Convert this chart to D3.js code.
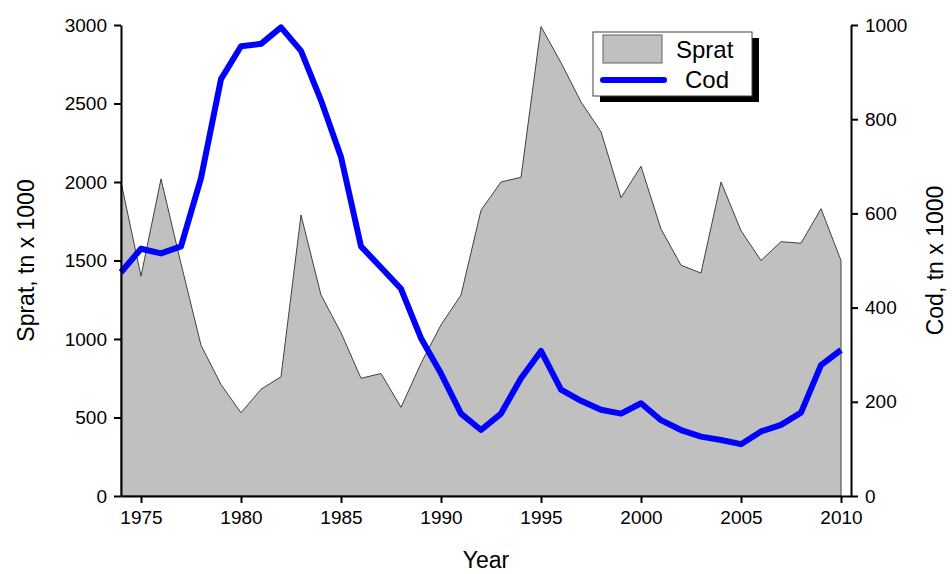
<!DOCTYPE html>
<html>
<head>
<meta charset="utf-8">
<script src="https://cdn.jsdelivr.net/npm/d3@7"></script>
<style>
  body { margin: 0; background: #fff; }
  text { font-family: "Liberation Sans", Arial, sans-serif; fill: #000; }
</style>
</head>
<body>
<div id="chart"></div>
<script>
const years = d3.range(1974, 2011)

const sprat = [2000, 1400, 2020, 1480, 960, 710, 530, 680, 760, 1790,
  1280, 1040, 750, 780, 565, 845, 1090, 1280, 1820, 2000,
  2030, 2990, 2760, 2510, 2320, 1900, 2100, 1700, 1470, 1420,
  2000, 1690, 1500, 1620, 1610, 1830, 1500]

const cod = [475, 525, 515, 530, 675, 885, 955, 960, 995, 945,
  840, 720, 530, 485, 440, 335, 260, 175, 140, 175,
  250, 308, 226, 202, 183, 175, 197, 161, 140, 126,
  119, 110, 137, 151, 177, 278, 310]

const xTicks = [1975, 1980, 1985, 1990, 1995, 2000, 2005, 2010]
const spratTicks = [0, 500, 1000, 1500, 2000, 2500, 3000]
const codTicks = [0, 200, 400, 600, 800, 1000]

const width = 952, height = 574
const margin = {left: 121, right: 101, top: 25, bottom: 78}

const svg = d3.select('#chart').append('svg')
  .attr('width', width)
  .attr('height', height)

const x = d3.scaleLinear()
  .domain([1974, 2010.5])
  .range([margin.left, width - margin.right])

const yL = d3.scaleLinear()
  .domain([0, 3000])
  .range([height - margin.bottom, margin.top])

const yR = d3.scaleLinear()
  .domain([0, 1000])
  .range([height - margin.bottom, margin.top])

const data = years.map((y, i) => ({year: y, sprat: sprat[i], cod: cod[i]}))

// sprat area
const area = d3.area()
  .x(d => x(d.year))
  .y0(yL(0))
  .y1(d => yL(d.sprat))

svg.append('path')
  .datum(data)
  .attr('d', area)
  .attr('fill', '#c0c0c0')
  .attr('stroke', '#404040')
  .attr('stroke-width', 1)

// cod line
const line = d3.line()
  .x(d => x(d.year))
  .y(d => yR(d.cod))

svg.append('path')
  .datum(data)
  .attr('d', line)
  .attr('fill', 'none')
  .attr('stroke', '#0000ff')
  .attr('stroke-width', 6)
  .attr('stroke-linejoin', 'round')

// axes
const styleAxis = (g) => {
  g.selectAll('.domain').attr('stroke', '#000').attr('stroke-width', 2)
  g.selectAll('.tick line').attr('stroke', '#000').attr('stroke-width', 2)
  g.selectAll('.tick text').style('font-size', '19px')
}

svg.append('g')
  .attr('transform', `translate(0,${height - margin.bottom})`)
  .call(d3.axisBottom(x).tickValues(xTicks).tickFormat(d3.format('d')).tickSize(7).tickSizeOuter(0).tickPadding(8))
  .call(styleAxis)

svg.append('g')
  .attr('transform', `translate(${margin.left},0)`)
  .call(d3.axisLeft(yL).tickValues(spratTicks).tickFormat(d3.format('d')).tickSize(7).tickSizeOuter(0).tickPadding(7))
  .call(styleAxis)

svg.append('g')
  .attr('transform', `translate(${width - margin.right},0)`)
  .call(d3.axisRight(yR).tickValues(codTicks).tickFormat(d3.format('d')).tickSize(7).tickSizeOuter(0).tickPadding(7))
  .call(styleAxis)

// axis titles
svg.append('text')
  .attr('x', (margin.left + width - margin.right) / 2)
  .attr('y', 568)
  .attr('text-anchor', 'middle')
  .style('font-size', '23px')
  .text('Year')

svg.append('text')
  .attr('transform', `translate(34,${(margin.top + height - margin.bottom) / 2}) rotate(-90)`)
  .attr('text-anchor', 'middle')
  .style('font-size', '23px')
  .text('Sprat, tn x 1000')

svg.append('text')
  .attr('transform', `translate(943,${(margin.top + height - margin.bottom) / 2}) rotate(-90)`)
  .attr('text-anchor', 'middle')
  .style('font-size', '23px')
  .text('Cod, tn x 1000')

// legend
const lg = svg.append('g').attr('transform', 'translate(593,32)')

lg.append('rect')
  .attr('x', 7).attr('y', 6)
  .attr('width', 159).attr('height', 64)
  .attr('fill', '#000')

lg.append('rect')
  .attr('width', 159).attr('height', 64)
  .attr('fill', '#fff')
  .attr('stroke', '#404040')
  .attr('stroke-width', 1)

lg.append('rect')
  .attr('x', 10).attr('y', 3)
  .attr('width', 59).attr('height', 28)
  .attr('fill', '#c0c0c0')
  .attr('stroke', '#606060')
  .attr('stroke-width', 1)

lg.append('line')
  .attr('x1', 10).attr('x2', 71)
  .attr('y1', 48).attr('y2', 48)
  .attr('stroke', '#0000ff')
  .attr('stroke-width', 6)
  .attr('stroke-linecap', 'round')

lg.append('text')
  .attr('x', 83).attr('y', 26)
  .style('font-size', '24px')
  .text('Sprat')

lg.append('text')
  .attr('x', 92).attr('y', 56)
  .style('font-size', '24px')
  .text('Cod')
</script>
</body>
</html>
